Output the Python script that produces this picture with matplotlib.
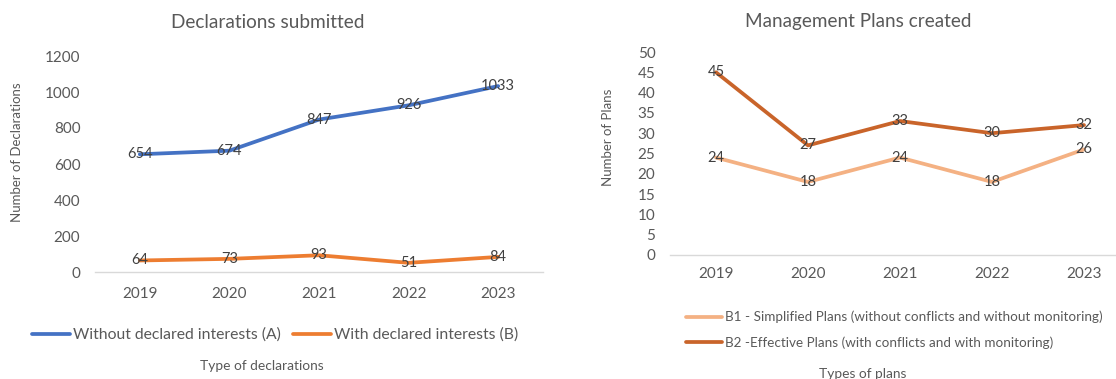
import matplotlib.pyplot as plt
import numpy as np

plt.rcParams['font.family'] = ['Lato', 'DejaVu Sans']

years = ['2019', '2020', '2021', '2022', '2023']

# declarations submitted
decl_without = [654, 674, 847, 926, 1033]
decl_with = [64, 73, 93, 51, 84]
decl_names = ['Without declared interests (A)', 'With declared interests (B)']

# management plans created
plans_b1 = [24, 18, 24, 18, 26]
plans_b2 = [45, 27, 33, 30, 32]
plans_names = ['B1 - Simplified Plans (without conflicts and without monitoring)',
               'B2 -Effective Plans (with conflicts and with monitoring)']

txt = '#595959'
lab = '#404040'
x = np.arange(len(years))
W, H = 1116, 379

fig = plt.figure(figsize=(W / 100, H / 100), dpi=100)
ax1 = fig.add_axes([95 / W, 1 - 272 / H, 448 / W, 216 / H])
# right plot area runs a little past the edge of the figure
ax2 = fig.add_axes([670 / W, 1 - 255 / H, 460 / W, 203 / H])


def style_axis(ax, ymax, step, xpad):
    ax.set_xlim(-0.5, len(years) - 0.5)
    ax.set_ylim(0, ymax)
    ax.set_yticks(np.arange(0, ymax + 1, step))
    ax.set_xticks(x)
    ax.set_xticklabels(years)
    for s in ['top', 'right', 'left']:
        ax.spines[s].set_visible(False)
    ax.spines['bottom'].set_color('#D9D9D9')
    ax.spines['bottom'].set_linewidth(1.0)
    ax.tick_params(length=0, labelsize=11, colors=txt)
    ax.tick_params(axis='y', pad=10.5)
    ax.tick_params(axis='x', pad=xpad)


def add_labels(ax, vals):
    for i, v in enumerate(vals):
        ax.text(i, v, str(v), ha='center', va='center', fontsize=10.5, color=lab)


# left chart
l1, = ax1.plot(x, decl_without, color='#4472C4', lw=2.7, solid_capstyle='round')
l2, = ax1.plot(x, decl_with, color='#ED7D31', lw=2.7, solid_capstyle='round')
style_axis(ax1, 1200, 200, 11)
add_labels(ax1, decl_without)
add_labels(ax1, decl_with)
ax1.set_ylabel('Number of Declarations', fontsize=9.5, color=txt)
ax1.yaxis.set_label_coords(-72 / 448, 0.556)
fig.text(268 / W, 1 - 23 / H, 'Declarations submitted', ha='center', va='center',
         fontsize=13.7, color=txt)
fig.legend([l1, l2], decl_names, loc='center', bbox_to_anchor=(275 / W, 1 - 335 / H),
           ncol=2, frameon=False, fontsize=11.3, labelcolor=txt, handlelength=2.4,
           handletextpad=0.2, columnspacing=0.8)
fig.text(262 / W, 1 - 366 / H, 'Type of declarations', ha='center', va='center',
         fontsize=9.9, color=txt)

# right chart
r1, = ax2.plot(x, plans_b1, color='#F4B183', lw=2.7, solid_capstyle='round')
r2, = ax2.plot(x, plans_b2, color='#C9642A', lw=2.7, solid_capstyle='round')
style_axis(ax2, 50, 5, 8.5)
add_labels(ax2, plans_b1)
add_labels(ax2, plans_b2)
ax2.set_ylabel('Number of Plans', fontsize=9.5, color=txt)
ax2.yaxis.set_label_coords(-56 / 460, 0.58)
fig.text(858 / W, 1 - 22 / H, 'Management Plans created', ha='center', va='center',
         fontsize=13.6, color=txt)
fig.legend([r1, r2], plans_names, loc='upper left', bbox_to_anchor=(679 / W, 1 - 304 / H),
           ncol=1, frameon=False, fontsize=9.75, labelcolor=txt, handlelength=2.65,
           handletextpad=0.25, labelspacing=0.95, borderpad=0)
fig.text(863 / W, 1 - 374 / H, 'Types of plans', ha='center', va='center',
         fontsize=9.9, color=txt)

fig.savefig('out.png', dpi=100, facecolor='white')
